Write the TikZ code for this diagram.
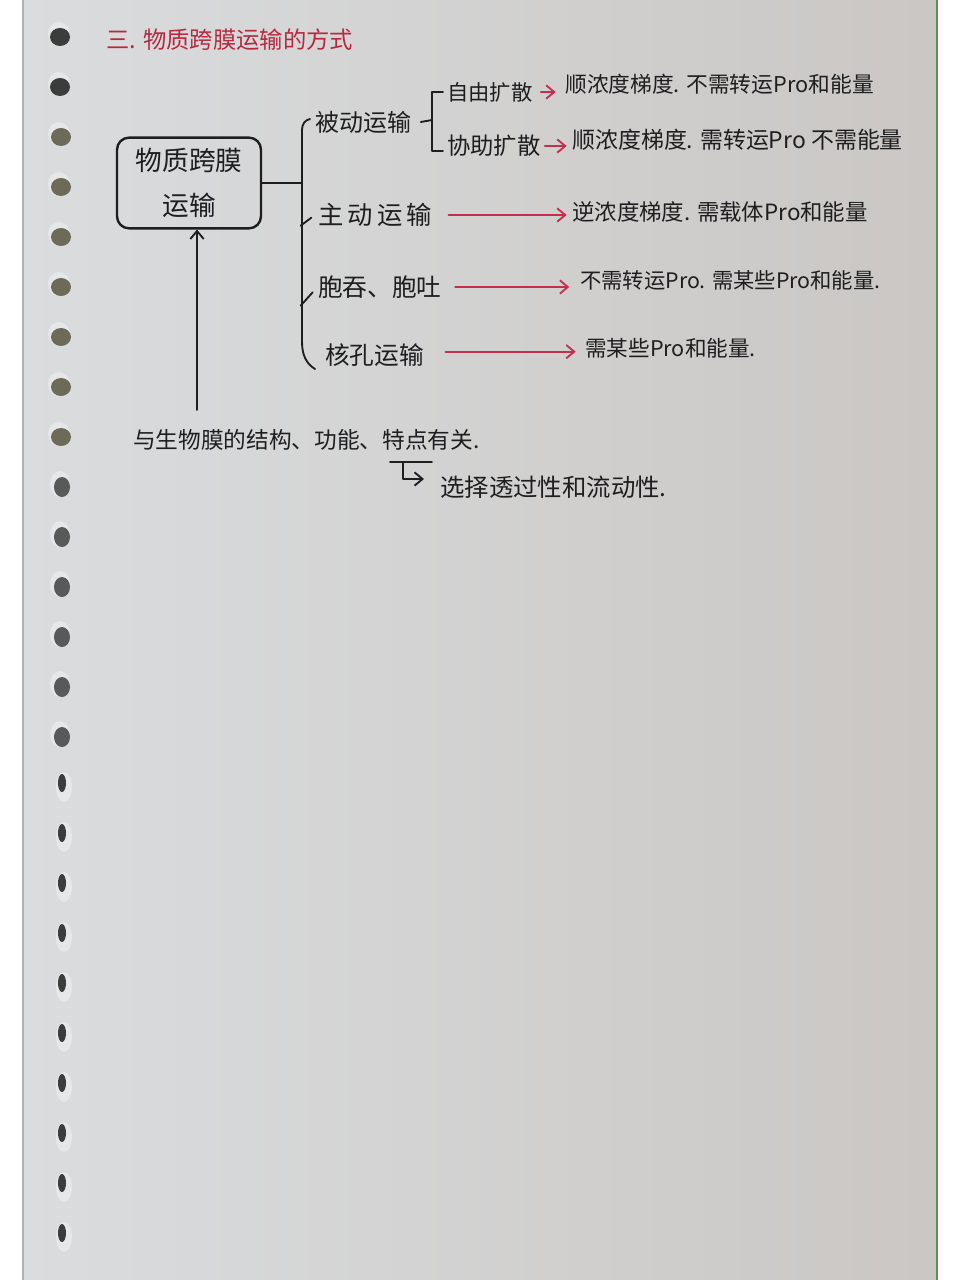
\documentclass[tikz,border=0pt]{standalone}
\usepackage{fontspec}
\newfontfamily\cjk{Noto Sans CJK SC}
\usetikzlibrary{arrows.meta}
\definecolor{ink}{HTML}{1E1E20}
\definecolor{redink}{HTML}{C42F4F}
\definecolor{titlered}{HTML}{B8283F}
\definecolor{paperA}{HTML}{DADCDE}
\definecolor{paperB}{HTML}{CAC7C4}
\definecolor{holeD}{HTML}{3A3D3C}
\definecolor{holeO}{HTML}{6E6A58}
\definecolor{rim}{HTML}{E6E7E8}
\definecolor{edgegreen}{HTML}{5E8F58}
\begin{document}
\begin{tikzpicture}[x=0.75pt,y=-0.75pt,
  fs/.style={font=\cjk\fontsize{#1}{#1}\selectfont},
  lbl/.style={fs=#1, text=ink, inner sep=0pt, anchor=west},
  lbl/.default=17,
  ttl/.style={fs=17.5, text=titlered, inner sep=0pt, anchor=west},
  boxed/.style={draw=ink, line width=1.8pt, rounded corners=9pt, minimum width=108pt, minimum height=68pt, inner sep=0pt, align=center, text=ink, font=\cjk\fontsize{20}{34}\selectfont},
  ln/.style={draw=ink, line width=1.4pt, line cap=round, line join=round},
  blackarr/.style={ln, -{Straight Barb[length=6pt,width=10pt,line width=1.4pt]}},
  redarr/.style={draw=redink, line width=1.4pt, line cap=round, -{Straight Barb[length=6pt,width=10pt,line width=1.4pt]}}
]
\useasboundingbox (0,0) rectangle (960,1280);
% page and paper
\fill[white] (0,0) rectangle (960,1280);
\shade[left color=paperA, right color=paperB] (23,0) rectangle (936,1280);
\draw[gray!60, line width=0.8pt] (23,0) -- (23,1280);
\draw[edgegreen, line width=2.2pt] (937,0) -- (937,1280);
% punched holes
\foreach \i in {0,...,24}{
  \pgfmathsetmacro\yy{37+50*\i}
  \ifnum\i<2
    \fill[rim] (59,\yy-3) ellipse [x radius=11, y radius=12];
    \fill[holeD] (60,\yy) ellipse [x radius=10, y radius=9];
  \else\ifnum\i<9
    \fill[rim] (59,\yy-3) ellipse [x radius=11, y radius=12];
    \fill[holeO] (61,\yy) ellipse [x radius=10, y radius=9];
  \else\ifnum\i<15
    \fill[rim] (60,\yy-3) ellipse [x radius=10, y radius=13];
    \fill[holeD!85!white] (62,\yy) ellipse [x radius=8, y radius=10];
  \else
    \fill[rim] (64,\yy) ellipse [x radius=8, y radius=15];
    \fill[holeD] (62,\yy-4) ellipse [x radius=4, y radius=9];
  \fi\fi\fi
}
% title
\node[ttl] (title) at (106,40) {三. 物质跨膜运输的方式};
% central box
\node[boxed] (box) at (189,183) {物质跨膜\\运输};
% first-level labels
\node[lbl=18] (beidong) at (315,122) {被动运输};
\node[lbl=19] (zhudong) at (318,215) {主\,动\,运\,输};
\node[lbl=18.5] (baotun) at (318,287) {胞吞、胞吐};
\node[lbl=18.5] (hekong) at (325,355) {核孔运输};
% second level
\node[lbl=16] (ziyou) at (447,92) {自由扩散};
\node[lbl=17.5] (xiezhu) at (447,146) {协助扩散};
% descriptions
\node[lbl=16.3] (d1) at (565,84) {顺浓度梯度. 不需转运Pro和能量};
\node[lbl=17.2] (d2) at (572,140) {顺浓度梯度. 需转运Pro 不需能量};
\node[lbl=16.8] (d3) at (572,212) {逆浓度梯度. 需载体Pro和能量};
\node[lbl=16] (d4) at (580,280) {不需转运Pro. 需某些Pro和能量.};
\node[lbl=16.2] (d5) at (585,348) {需某些Pro和能量.};
% bottom
\node[lbl=17] (bottom) at (133,440) {与生物膜的结构、功能、特点有关.};
\node[lbl=18.3] (sel) at (440,487) {选择透过性和流动性.};
% main bracket
\coordinate (bt) at (302,130);
\coordinate (bb) at (302,342);
\draw[ln] (box.east) -- (box.east -| bt);
\draw[ln] (310,119) .. controls (305,120) and (302,124) .. (bt) -- (bb)
  .. controls (302,356) and (307,364) .. (315,369);
\draw[ln] ([xshift=-13,yshift=-8]zhudong.west) -- ([xshift=-5,yshift=-2]zhudong.west);
\draw[ln] ([xshift=-13,yshift=-14]baotun.west) -- ([xshift=-4,yshift=-4]baotun.west);
% sub bracket
\coordinate (sm) at (432,120);
\coordinate (st) at (432,92);
\coordinate (sbt) at (432,151);
\draw[ln] ([xshift=7]beidong.east) -- (sm);
\draw[ln] ([xshift=-3]ziyou.west) -- (st) -- (sbt) -- ([xshift=-3]sbt -| xiezhu.west);
% red arrows
\draw[redarr] ([xshift=6]ziyou.east) -- ([xshift=-7]ziyou.east -| d1.west);
\draw[redarr] ([xshift=3]xiezhu.east) -- ([xshift=-4]xiezhu.east -| d2.west);
\draw[redarr] ([xshift=12]zhudong.east) -- ([xshift=-4]zhudong.east -| d3.west);
\draw[redarr] ([xshift=10]baotun.east) -- ([xshift=-8]baotun.east -| d4.west);
\draw[redarr] ([xshift=16,yshift=2.5]hekong.east) -- ([xshift=-7,yshift=2.5]hekong.east -| d5.west);
% up arrow from bottom text to box
\coordinate (upS) at (197,410);
\draw[blackarr] (upS) -- (upS |- box.south);
% underline and L-arrow
\coordinate (ul1) at (390,462);
\coordinate (ul2) at (432,462);
\draw[ln] (ul1) -- (ul2);
\coordinate (lc) at (403,479);
\draw[blackarr] (403,462) -- (lc) -- ([xshift=-12]lc -| sel.west);
\end{tikzpicture}
\end{document}
